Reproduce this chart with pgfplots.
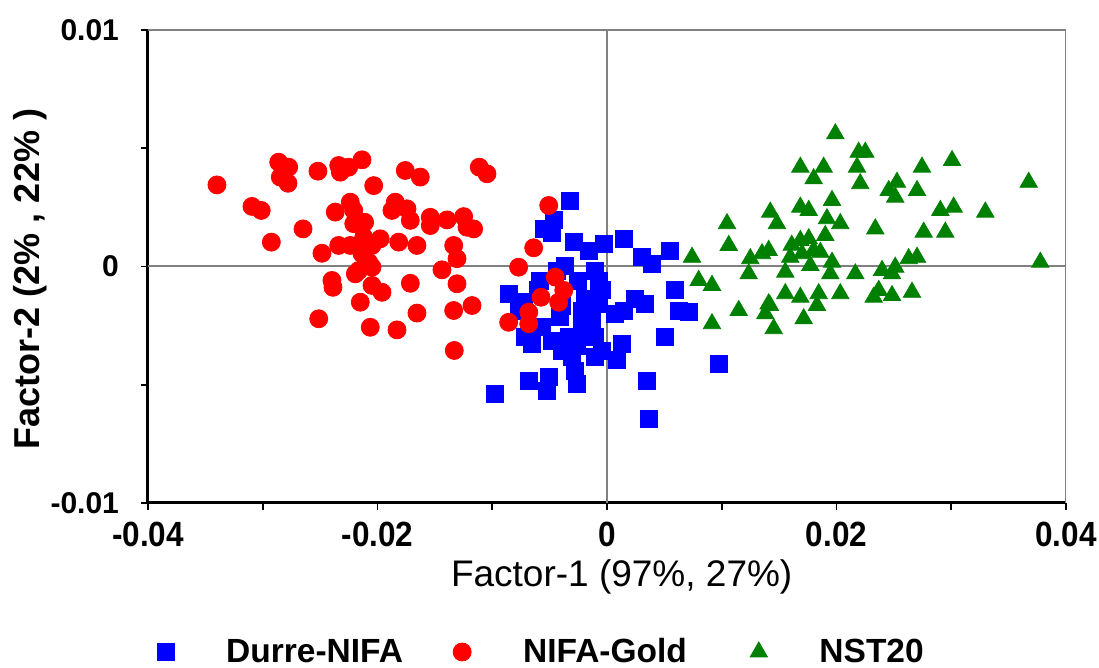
\documentclass[border=0pt]{standalone}
\usepackage{fontspec}
\setmainfont{Liberation Sans}
\usepackage{pgfplots}
\usepackage{pgfplotstable}
\pgfplotsset{compat=1.18}
\definecolor{cblue}{RGB}{0,0,255}
\definecolor{cred}{RGB}{255,0,0}
\definecolor{cgreen}{RGB}{0,128,0}
\definecolor{zgray}{RGB}{128,128,128}
\newcommand{\xt}[1]{\scalebox{0.9}[1]{#1}}

\pgfplotstableread{
x y
-0.00320 0.00279
-0.00552 0.00159
-0.00464 0.00195
-0.00479 0.00140
-0.00290 0.00103
-0.00159 0.00068
-0.00029 0.00096
0.00146 0.00117
0.00305 0.00039
0.00392 0.00011
0.00552 0.00068
-0.00363 0.00004
-0.00436 -0.00017
-0.00102 -0.00017
-0.00072 -0.00059
-0.00581 -0.00059
-0.00857 -0.00115
-0.00726 -0.00151
-0.00770 -0.00186
-0.00189 -0.00137
-0.00218 -0.00186
0.00247 -0.00137
0.00334 -0.00158
0.00146 -0.00186
0.00072 -0.00200
0.00595 -0.00101
0.00625 -0.00186
0.00712 -0.00193
-0.00654 -0.00327
-0.00479 -0.00313
-0.00392 -0.00355
-0.00218 -0.00271
-0.00102 -0.00299
-0.00044 -0.00355
0.00131 -0.00327
0.00087 -0.00397
-0.00102 -0.00384
-0.00305 -0.00384
-0.00276 -0.00440
0.00508 -0.00299
-0.00973 -0.00538
-0.00682 -0.00482
-0.00508 -0.00468
-0.00523 -0.00524
-0.00261 -0.00496
0.00349 -0.00482
0.00363 -0.00644
0.00973 -0.00411
-0.00407 -0.00214
-0.00566 -0.00257
-0.00218 -0.00242
-0.00334 -0.00299
-0.00712 -0.00299
-0.00072 -0.00158
-0.00131 -0.00228
-0.00044 -0.00101
-0.00392 -0.00165
-0.00261 -0.00334
-0.00600 -0.00100
-0.00250 -0.00060
}\durre

\pgfplotstableread{
x y
-0.03399 0.00345
-0.03094 0.00254
-0.03013 0.00237
-0.02925 0.00103
-0.02861 0.00441
-0.02774 0.00420
-0.02847 0.00378
-0.02780 0.00352
-0.02519 0.00403
-0.02649 0.00159
-0.02338 0.00427
-0.02251 0.00420
-0.02324 0.00399
-0.02135 0.00451
-0.02033 0.00342
-0.02368 0.00230
-0.02237 0.00272
-0.02207 0.00237
-0.02484 0.00056
-0.02338 0.00089
-0.02237 0.00089
-0.02207 0.00181
-0.02112 0.00187
-0.02120 0.00124
-0.01976 0.00117
-0.02048 0.00089
-0.01815 0.00103
-0.01656 0.00089
-0.02135 0.00054
-0.02077 0.00018
-0.02164 -0.00017
-0.02193 -0.00031
-0.02048 -0.00003
-0.02397 -0.00059
-0.02388 -0.00088
-0.02048 -0.00080
-0.01961 -0.00109
-0.02150 -0.00151
-0.02512 -0.00221
-0.02063 -0.00257
-0.01830 -0.00268
-0.01714 -0.00071
-0.01656 -0.00197
-0.01758 0.00406
-0.01627 0.00378
-0.01845 0.00272
-0.01874 0.00237
-0.01743 0.00244
-0.01714 0.00195
-0.01540 0.00208
-0.01540 0.00173
-0.01394 0.00197
-0.01249 0.00211
-0.01220 0.00166
-0.01162 0.00159
-0.01336 0.00089
-0.01307 0.00033
-0.01438 -0.00014
-0.01307 -0.00073
-0.01336 -0.00186
-0.01176 -0.00165
-0.01331 -0.00355
-0.01113 0.00420
-0.01046 0.00392
-0.00857 -0.00236
-0.00770 -0.00003
-0.00508 0.00258
-0.00639 0.00079
-0.00451 -0.00045
-0.00377 -0.00101
-0.00421 -0.00151
-0.00575 -0.00130
-0.00682 -0.00193
-0.00682 -0.00242
}\nifa

\pgfplotstableread{
x y
0.01990 0.00561
0.02193 0.00483
0.02251 0.00483
0.02179 0.00420
0.02207 0.00350
0.01685 0.00420
0.01888 0.00420
0.01801 0.00371
0.02745 0.00420
0.03007 0.00448
0.03675 0.00356
0.02455 0.00321
0.02527 0.00356
0.02512 0.00293
0.02702 0.00321
0.01961 0.00279
0.01685 0.00251
0.01758 0.00237
0.01423 0.00230
0.01481 0.00181
0.01917 0.00202
0.02033 0.00181
0.02905 0.00237
0.03021 0.00251
0.03297 0.00230
0.01046 0.00181
0.02338 0.00159
0.02760 0.00145
0.02948 0.00145
0.01902 0.00131
0.01061 0.00089
0.01685 0.00110
0.01758 0.00117
0.01801 0.00068
0.01859 0.00060
0.01699 0.00054
0.01597 0.00039
0.01409 0.00068
0.01351 0.00054
0.01249 0.00033
0.00741 0.00039
0.01961 0.00018
0.02629 0.00033
0.02702 0.00039
0.03776 0.00018
0.00799 -0.00059
0.00915 -0.00080
0.01235 -0.00031
0.01554 -0.00024
0.01772 0.00004
0.01946 -0.00031
0.02164 -0.00031
0.02397 -0.00017
0.02484 -0.00031
0.02512 -0.00003
0.02368 -0.00101
0.02484 -0.00123
0.02324 -0.00130
0.02658 -0.00109
0.01554 -0.00115
0.01685 -0.00130
0.01845 -0.00115
0.01830 -0.00165
0.02033 -0.00115
0.01148 -0.00186
0.01409 -0.00158
0.01380 -0.00200
0.01453 -0.00263
0.00915 -0.00242
0.01714 -0.00221
0.01420 -0.00165
0.01610 0.00090
}\nst

\begin{document}
\begin{tikzpicture}
\begin{axis}[
  scale only axis, width=459pt, height=236.5pt,
  xmin=-0.04, xmax=0.04, ymin=-0.01, ymax=0.01,
  axis x line*=bottom, axis y line*=left,
  axis line style={black, line width=1.5pt},
  xtick={-0.04,-0.02,0,0.02,0.04},
  xticklabels={\xt{-0.04},\xt{-0.02},\xt{0},\xt{0.02},\xt{0.04}},
  minor xtick={-0.03,-0.01,0.01,0.03},
  ytick={-0.01,0,0.01},
  yticklabels={-0.01,0,0.01},
  minor ytick={-0.005,0.005},
  scaled ticks=false,
  tick align=outside,
  major tick length=3.5pt, minor tick length=3.5pt,
  every tick/.style={black, line width=0.8pt},
  xticklabel style={font=\fontsize{17.5}{20}\selectfont\bfseries, yshift=-2.5pt},
  yticklabel style={font=\fontsize{15}{18}\selectfont\bfseries, xshift=-7.5pt},
  xlabel={Factor-1 (97\%, 27\%)},
  ylabel={Factor-2 (2\% , 22\% )},
  xlabel style={font=\fontsize{18.5}{22}\selectfont, at={(axis description cs:0.516,-0.156)}, anchor=center},
  ylabel style={font=\fontsize{18}{21}\selectfont\bfseries, at={(axis description cs:-0.1285,0.4736)}, anchor=center},
  legend columns=3,
  legend style={draw=none, fill=none, at={(axis description cs:0.003,-0.315)}, anchor=west,
    font=\fontsize{16.75}{20}\selectfont\bfseries,
    /tikz/every odd column/.append style={column sep=24pt},
    /tikz/every even column/.append style={column sep=0pt}},
]
\addplot[only marks, mark=square*, mark size=4.25pt, draw=cblue, fill=cblue] table[x=x,y=y] {\durre};
\addlegendentry{\makebox[111.5pt][l]{Durre-NIFA}}
\addplot[only marks, mark=*, mark size=4.5pt, draw=cred, fill=cred] table[x=x,y=y] {\nifa};
\addlegendentry{\makebox[111.5pt][l]{NIFA-Gold}}
\addplot[only marks, mark=triangle*, mark size=5pt, draw=cgreen, fill=cgreen] table[x=x,y=y] {\nst};
\addlegendentry{NST20}
\draw[zgray, line width=1pt] (axis cs:0,-0.01) -- (axis cs:0,0.01);
\draw[zgray, line width=1pt] (axis cs:-0.04,0) -- (axis cs:0.04,0);
\draw[zgray, line width=1pt] (rel axis cs:0,1) -- (rel axis cs:1,1) -- (rel axis cs:1,0);
\end{axis}
\pgfresetboundingbox
\path (-74pt,-82.5pt) rectangle (475.5pt,251.5pt);
\end{tikzpicture}
\end{document}
